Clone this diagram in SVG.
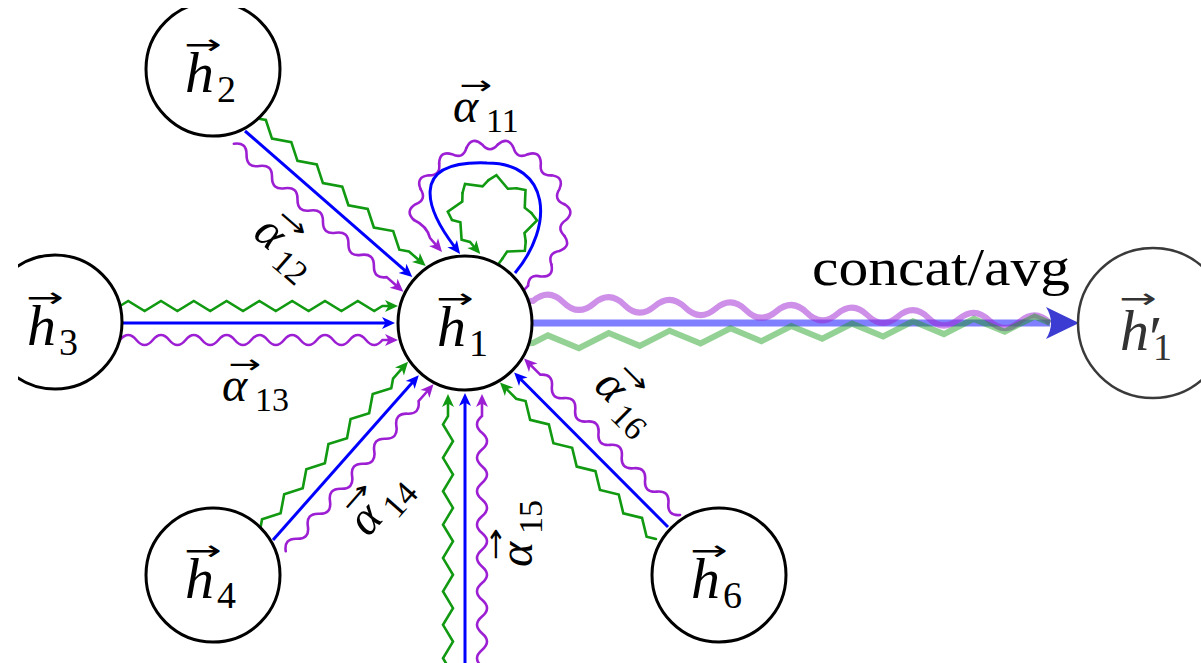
<svg xmlns="http://www.w3.org/2000/svg" xmlns:xlink="http://www.w3.org/1999/xlink" width="1201" height="663" viewBox="0 0 1201 663">
<style>
.b{fill:none;stroke:#0000ff;stroke-width:3}
.g{fill:none;stroke:#119911;stroke-width:2.6;stroke-linejoin:miter;stroke-linecap:round}
.p{fill:none;stroke:#9d1fd3;stroke-width:2.6;stroke-linecap:round}
.n{fill:#fff;stroke:#000;stroke-width:3}
.h{font-family:"Liberation Serif","DejaVu Serif",serif;font-style:italic;font-size:58px;fill:#000}
.hs{font-style:normal;font-size:38px}
.hv{font-family:"DejaVu Sans",sans-serif;font-size:28px;fill:#000;text-anchor:middle}
.pr{font-style:normal;font-size:62px}
.al{font-family:"Liberation Serif","DejaVu Serif",serif;font-style:italic;font-size:48px;fill:#000}
.as{font-style:normal;font-size:34px}
.av{font-family:"DejaVu Sans",sans-serif;font-size:26px;fill:#000;text-anchor:middle}
.lbl{font-family:"Liberation Serif","DejaVu Serif",serif;font-size:52px;fill:#000}
.gr{fill:#333}
</style>
<defs>
<clipPath id="cp"><rect x="18" y="8" width="1183" height="655"/></clipPath>
<marker id="ab" viewBox="-6 -7 15 14" refX="0" refY="0" markerWidth="15" markerHeight="14" markerUnits="userSpaceOnUse" orient="auto"><path d="M8,0 L-5,-6 L-1.5,0 L-5,6 Z" fill="#0000ff"/></marker>
<marker id="ag" viewBox="-6 -7 15 14" refX="0" refY="0" markerWidth="15" markerHeight="14" markerUnits="userSpaceOnUse" orient="auto"><path d="M8,0 L-5,-6 L-1.5,0 L-5,6 Z" fill="#119911"/></marker>
<marker id="ap" viewBox="-6 -7 15 14" refX="0" refY="0" markerWidth="15" markerHeight="14" markerUnits="userSpaceOnUse" orient="auto"><path d="M8,0 L-5,-6 L-1.5,0 L-5,6 Z" fill="#9d1fd3"/></marker>
<path id="pw" class="p" d="M76,0 Q85.53,8.99 74.34,15.8 Q62.77,20.4 69.43,30.91"/>
<path id="gw" class="g" d="M40,0 L44.23,8.3 L29.72,18.48 L29.49,27.02"/>
</defs>
<g clip-path="url(#cp)">
<g id="connectors">
  <!-- h3 -> h1 -->
  <g transform="translate(122,323)">
    <path class="g" marker-end="url(#ag)" d="M-2,-17 l8.2,-5 l16.4,10 l16.4,-10 l16.4,10 l16.4,-10 l16.4,10 l16.4,-10 l16.4,10 l16.4,-10 l16.4,10 l16.4,-10 l16.4,10 l16.4,-10 l16.4,10 l16.4,-10 l16.4,10 l8.2,-5 L268,-17"/>
    <path class="b" marker-end="url(#ab)" d="M0,0 H265"/>
    <path class="p" marker-end="url(#ap)" d="M-2,17 q8.2,-10 16.4,0 t16.4,0 t16.4,0 t16.4,0 t16.4,0 t16.4,0 t16.4,0 t16.4,0 t16.4,0 t16.4,0 t16.4,0 t16.4,0 t16.4,0 t16.4,0 t16.4,0 t16.4,0 L268,17"/>
  </g>
  <!-- h2 -> h1 -->
  <g transform="translate(245,131) rotate(41.1)">
    <path class="g" marker-end="url(#ag)" d="M0,-17 l8.45,-5 l16.9,10 l16.9,-10 l16.9,10 l16.9,-10 l16.9,10 l16.9,-10 l16.9,10 l16.9,-10 l16.9,10 l16.9,-10 l16.9,10 l8.45,-5 L217,-17"/>
    <path class="b" marker-end="url(#ab)" d="M0,0 H214"/>
    <path class="p" marker-end="url(#ap)" d="M0,17 q8.45,-10 16.9,0 t16.9,0 t16.9,0 t16.9,0 t16.9,0 t16.9,0 t16.9,0 t16.9,0 t16.9,0 t16.9,0 t16.9,0 t16.9,0 L217,17"/>
  </g>
  <!-- h4 -> h1 -->
  <g transform="translate(273,540) rotate(-48.5)">
    <path class="g" marker-end="url(#ag)" d="M0,-17 l8.35,-5 l16.7,10 l16.7,-10 l16.7,10 l16.7,-10 l16.7,10 l16.7,-10 l16.7,10 l16.7,-10 l16.7,10 l16.7,-10 l16.7,10 l8.35,-5 L215,-17"/>
    <path class="b" marker-end="url(#ab)" d="M0,0 H212"/>
    <path class="p" marker-end="url(#ap)" d="M0,17 q8.35,-10 16.7,0 t16.7,0 t16.7,0 t16.7,0 t16.7,0 t16.7,0 t16.7,0 t16.7,0 t16.7,0 t16.7,0 t16.7,0 t16.7,0 L215,17"/>
  </g>
  <!-- h6 -> h1 -->
  <g transform="translate(668,527) rotate(-134.9)">
    <path class="g" marker-end="url(#ag)" d="M0,-17 l8.25,-5 l16.5,10 l16.5,-10 l16.5,10 l16.5,-10 l16.5,10 l16.5,-10 l16.5,10 l16.5,-10 l16.5,10 l16.5,-10 l16.5,10 l8.25,-5 L213,-17"/>
    <path class="b" marker-end="url(#ab)" d="M0,0 H210"/>
    <path class="p" marker-end="url(#ap)" d="M0,17 q8.25,-10 16.5,0 t16.5,0 t16.5,0 t16.5,0 t16.5,0 t16.5,0 t16.5,0 t16.5,0 t16.5,0 t16.5,0 t16.5,0 t16.5,0 L213,17"/>
  </g>
  <!-- h5 -> h1 -->
  <g transform="translate(465,700) rotate(-90)">
    <path class="g" marker-end="url(#ag)" d="M0,-17 l8.35,-5 l16.7,10 l16.7,-10 l16.7,10 l16.7,-10 l16.7,10 l16.7,-10 l16.7,10 l16.7,-10 l16.7,10 l16.7,-10 l16.7,10 l16.7,-10 l16.7,10 l16.7,-10 l16.7,10 l16.7,-10 l8.35,5 L298,-17"/>
    <path class="b" marker-end="url(#ab)" d="M0,0 H299"/>
    <path class="p" marker-end="url(#ap)" d="M0,17 q8.35,-10 16.7,0 t16.7,0 t16.7,0 t16.7,0 t16.7,0 t16.7,0 t16.7,0 t16.7,0 t16.7,0 t16.7,0 t16.7,0 t16.7,0 t16.7,0 t16.7,0 t16.7,0 t16.7,0 t16.7,0 L298,17"/>
  </g>
  <!-- self loop h1 -> h1 -->
  <g id="loop-purple">
    <g transform="translate(490,220)">
      <use xlink:href="#pw" transform="rotate(-180)"/>
      <use xlink:href="#pw" transform="rotate(-156)"/>
      <use xlink:href="#pw" transform="rotate(-132)"/>
      <use xlink:href="#pw" transform="rotate(-108)"/>
      <use xlink:href="#pw" transform="rotate(-84)"/>
      <use xlink:href="#pw" transform="rotate(-60)"/>
      <use xlink:href="#pw" transform="rotate(-36)"/>
      <use xlink:href="#pw" transform="rotate(-12)"/>
      <use xlink:href="#pw" transform="rotate(12)"/>
      <use xlink:href="#pw" transform="rotate(36)"/>
    </g>
    <path class="p" d="M522,292 L528,285.8"/>
    <path class="p" marker-end="url(#ap)" d="M414,220 Q427,226 430,238 L436.8,245.9"/>
  </g>
  <path class="b" marker-end="url(#ab)" d="M515,273 C555,225 550,163 487,163 C405,160 428,212 455.2,247.6"/>
  <g id="loop-green">
    <g transform="translate(492,220)">
      <use xlink:href="#gw" transform="rotate(-180)"/>
      <use xlink:href="#gw" transform="rotate(-137.5)"/>
      <use xlink:href="#gw" transform="rotate(-95)"/>
      <use xlink:href="#gw" transform="rotate(-52.5)"/>
      <use xlink:href="#gw" transform="rotate(-10)"/>
      <use xlink:href="#gw" transform="rotate(32.5)"/>
    </g>
    <path class="g" d="M497,266 L502.35,258.64"/>
    <path class="g" marker-end="url(#ag)" d="M452,220 L460.4,222.3 L461.6,239.7 L470,242 L475.1,248"/>
  </g>
  <!-- output h1 -> h1' -->
  <g id="output">
    <path d="M530,323 H1050" fill="none" stroke="#0000ff" stroke-opacity="0.5" stroke-width="7"/>
    <path transform="translate(533,301) rotate(2.44)" fill="none" stroke="#9d1fd3" stroke-opacity="0.5" stroke-width="6" d="M-6,0 L0,0 q15.22,-14 30.44,0 t30.44,0 t30.44,0 t30.44,0 t30.44,0 t30.44,0 t30.44,0 t30.44,0 t30.44,0 t30.44,0 t30.44,0 t30.44,0 t30.44,0 t30.44,0 t30.44,0 t30.44,0 t30.44,0"/>
    <path transform="translate(533,343) rotate(-2.22)" fill="none" stroke="#119911" stroke-opacity="0.45" stroke-width="6" d="M-6,0 L0,0 l15.22,-7 l30.44,14 l30.44,-14 l30.44,14 l30.44,-14 l30.44,14 l30.44,-14 l30.44,14 l30.44,-14 l30.44,14 l30.44,-14 l30.44,14 l30.44,-14 l30.44,14 l30.44,-14 l30.44,14 l30.44,-14 l15.22,7"/>
    <path d="M1079,323 L1046,307 Q1056,323 1046,339 Z" fill="#3c3cd2"/>
  </g>
</g>
<g id="node-h1">
  <circle class="n" cx="465" cy="323" r="67"/>
  <text class="h" x="437" y="346">h<tspan class="hs" x="469" y="356">1</tspan></text>
  <text class="hv" transform="translate(455,308) scale(1.6,1)">→</text>
</g>
<g id="node-h2">
  <circle class="n" cx="213" cy="69" r="67"/>
  <text class="h" x="185" y="92">h<tspan class="hs" x="217" y="102">2</tspan></text>
  <text class="hv" transform="translate(203,54) scale(1.6,1)">→</text>
</g>
<g id="node-h3">
  <circle class="n" cx="55" cy="322" r="67"/>
  <text class="h" x="27" y="345">h<tspan class="hs" x="59" y="355">3</tspan></text>
  <text class="hv" transform="translate(45,307) scale(1.6,1)">→</text>
</g>
<g id="node-h4">
  <circle class="n" cx="213" cy="575" r="67"/>
  <text class="h" x="185" y="598">h<tspan class="hs" x="217" y="608">4</tspan></text>
  <text class="hv" transform="translate(203,560) scale(1.6,1)">→</text>
</g>
<g id="node-h6">
  <circle class="n" cx="719" cy="575" r="67"/>
  <text class="h" x="691" y="598">h<tspan class="hs" x="723" y="608">6</tspan></text>
  <text class="hv" transform="translate(709,560) scale(1.6,1)">→</text>
</g>
<g id="node-h1p">
  <circle cx="1153" cy="323" r="75" fill="#fff" stroke="#3a3a3a" stroke-width="2.5"/>
  <text class="h gr" x="1120" y="350">h<tspan class="pr" x="1149" y="358">′</tspan><tspan class="hs" x="1153" y="360">1</tspan></text>
  <text class="hv gr" transform="translate(1138,308) scale(1.6,1)">→</text>
</g>
<g id="labels">
  <g transform="translate(453,122)"><text class="al" x="0" y="0">α<tspan class="as" x="33" y="10">11</tspan></text><text class="av" transform="translate(23,-28) scale(1.5,1)">→</text></g>
  <g transform="translate(251.5,235.5) rotate(41)"><text class="al" x="0" y="0">α<tspan class="as" x="33" y="10">12</tspan></text><text class="av" transform="translate(23,-28) scale(1.5,1)">→</text></g>
  <g transform="translate(222,401)"><text class="al" x="0" y="0">α<tspan class="as" x="33" y="10">13</tspan></text><text class="av" transform="translate(23,-28) scale(1.5,1)">→</text></g>
  <g transform="translate(368,538) rotate(-48.5)"><text class="al" x="0" y="0">α<tspan class="as" x="33" y="10">14</tspan></text><text class="av" transform="translate(23,-28) scale(1.5,1)">→</text></g>
  <g transform="translate(532,567) rotate(-90)"><text class="al" x="0" y="0">α<tspan class="as" x="33" y="10">15</tspan></text><text class="av" transform="translate(23,-28) scale(1.5,1)">→</text></g>
  <g transform="translate(592.6,387.2) rotate(45)"><text class="al" x="0" y="0">α<tspan class="as" x="33" y="10">16</tspan></text><text class="av" transform="translate(23,-28) scale(1.5,1)">→</text></g>
  <text class="lbl" x="812" y="285" textLength="258" lengthAdjust="spacingAndGlyphs">concat/avg</text>
</g>
</g>
</svg>
